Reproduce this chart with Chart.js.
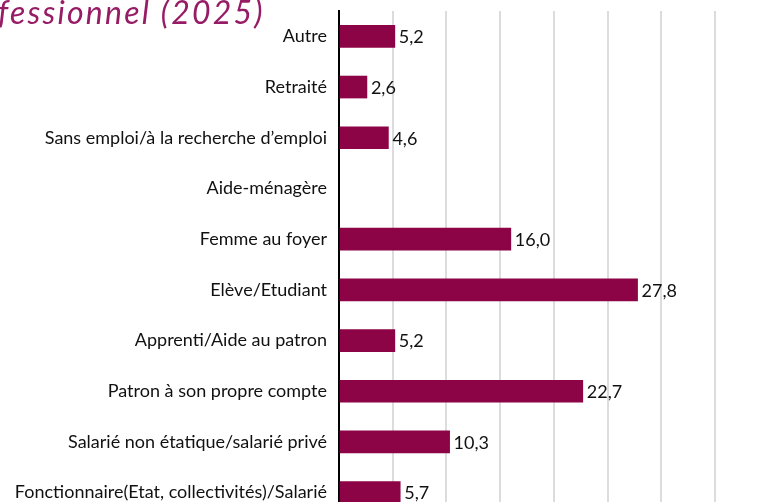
<!DOCTYPE html>
<html>
<head>
<meta charset="utf-8">
<script src="https://cdn.jsdelivr.net/npm/chart.js@4/dist/chart.umd.min.js"></script>
<style>
  html, body { margin: 0; padding: 0; background: #fff; overflow: hidden; width: 765px; height: 502px; }
  #wrap { position: relative; width: 765px; height: 502px; overflow: hidden; }
  #myChart { position: absolute; left: 0; top: 0; }
  #title { position: absolute; left: -2px; top: -8px; font-family: 'Lato', sans-serif; font-style: italic;
           font-size: 32px; letter-spacing: 2.2px; color: #961c66; white-space: nowrap; }
</style>
</head>
<body>
<div id="wrap">
  <canvas id="myChart" width="880" height="518"></canvas>
  <div id="title">fessionnel (2025)</div>
</div>
<script>
// categories, top to bottom
const categories = [
    'Autre',
    'Retraité',
    'Sans emploi/à la recherche d’emploi',
    'Aide-ménagère',
    'Femme au foyer',
    'Elève/Etudiant',
    'Apprenti/Aide au patron',
    'Patron à son propre compte',
    'Salarié non étatique/salarié privé',
    'Fonctionnaire(Etat, collectivités)/Salarié'
];
// percent values (Aide-ménagère has no bar)
const values = [5.2, 2.6, 4.6, null, 16.0, 27.8, 5.2, 22.7, 10.3, 5.7];

const barColor = 'rgb(140, 4, 70)';
const labelFont = { family: 'Lato', size: 18 };

// draws the value at the end of each bar, comma as decimal sign
const valueLabels = {
    id: 'valueLabels',
    afterDatasetsDraw(chart) {
        const ctx = chart.ctx;
        const meta = chart.getDatasetMeta(0);
        ctx.save();
        ctx.font = labelFont.size + 'px ' + labelFont.family;
        ctx.fillStyle = '#111';
        ctx.textAlign = 'left';
        ctx.textBaseline = 'middle';
        meta.data.forEach(function(bar, i) {
            const v = values[i];
            if (v === null) return;
            ctx.fillText(v.toFixed(1).replace('.', ','), bar.x + 4, bar.y + 1);
        });
        ctx.restore();
    }
};

const ctx = document.getElementById('myChart').getContext('2d');
const myChart = new Chart(ctx, {
    type: 'bar',
    data: {
        labels: categories,
        datasets: [{
            data: values,
            backgroundColor: barColor,
            borderWidth: 0,
            barThickness: 22
        }]
    },
    options: {
        indexAxis: 'y',
        responsive: false,
        animation: false,
        layout: { padding: { top: 11, right: 4, bottom: 0, left: 0 } },
        plugins: {
            legend: { display: false },
            tooltip: { enabled: false }
        },
        scales: {
            x: {
                min: 0,
                max: 50,
                afterFit: function(scale) { scale.height = 0; },
                ticks: { display: false, stepSize: 5 },
                grid: { color: '#dcdcdc', lineWidth: 2, drawTicks: false },
                border: { display: false }
            },
            y: {
                afterFit: function(scale) {
                    scale.width = 339;
                    scale.paddingTop = 0;
                    scale.paddingBottom = 0;
                },
                ticks: { color: '#111', font: labelFont, padding: 12 },
                grid: { display: false, drawTicks: false },
                border: { display: true, color: '#000', width: 2 }
            }
        }
    },
    plugins: [valueLabels]
});
</script>
</body>
</html>
